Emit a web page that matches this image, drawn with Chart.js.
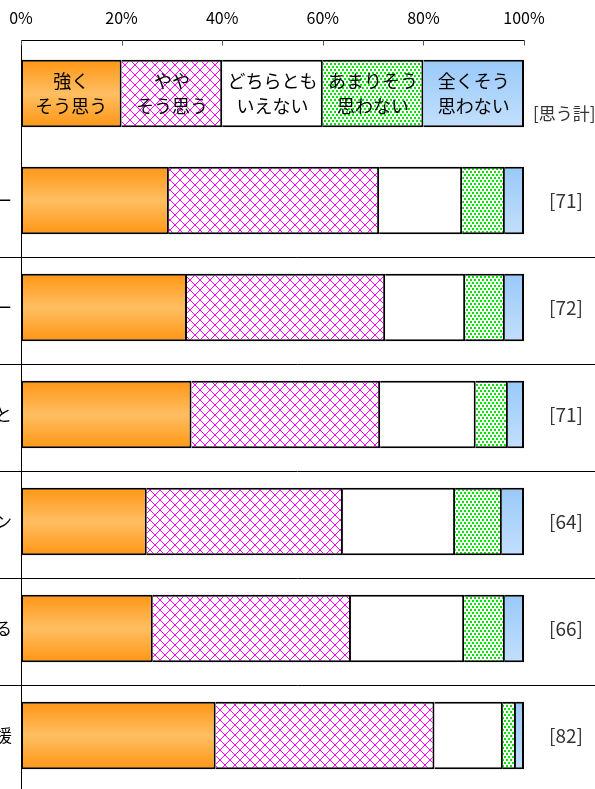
<!DOCTYPE html>
<html lang="ja">
<head>
<meta charset="utf-8">
<script src="https://cdn.jsdelivr.net/npm/chart.js@4.4.0/dist/chart.umd.min.js"></script>
<style>
  html, body { margin: 0; padding: 0; background: #fff; }
  #wrap { width: 595px; height: 789px; }
</style>
</head>
<body>
<div id="wrap"><canvas id="chart" width="595" height="789"></canvas></div>
<script>
// 1行目は凡例を兼ねた帯（各20%）、2行目以降が各項目
const categories = ["", "経営相談・アドバイザー", "専門家によるコーディネーター", "他の企業との連携を図ること", "人材育成セミナー・キャンペーン", "情報を共有できる", "資金面での支援"];
const legendLines = [["強く", "そう思う"], ["やや", "そう思う"], ["どちらとも", "いえない"], ["あまりそう", "思わない"], ["全くそう", "思わない"]];
const strongly  = [20, 29.4, 33.0, 33.9, 25.0, 26.2, 38.7];
const somewhat  = [20, 41.8, 39.4, 37.5, 39.0, 39.4, 43.5];
const neither   = [20, 16.5, 15.9, 19.0, 22.3, 22.5, 13.6];
const notReally = [20, 8.5, 7.9, 6.4, 9.3, 8.1, 2.6];
const notAtAll  = [20, 3.8, 3.8, 3.2, 4.4, 3.8, 1.6];
const thinkTotal = [null, 71, 72, 71, 64, 66, 82];
const totalTitle = "[思う計]";
const xTicks = [0, 20, 40, 60, 80, 100];

const FONT = '"Noto Sans CJK JP", "Noto Sans", sans-serif';
const BAR_PCT = 0.63;
const AXIS_HEIGHT = 40;
Chart.defaults.font.family = FONT;

// 模様（ピンクの格子・緑のドット）
function makePattern(size, draw) {
  const cv = document.createElement("canvas");
  cv.width = size[0];
  cv.height = size[1];
  const c = cv.getContext("2d");
  c.fillStyle = "#fff";
  c.fillRect(0, 0, size[0], size[1]);
  draw(c);
  return document.getElementById("chart").getContext("2d").createPattern(cv, "repeat");
}
const pinkLattice = makePattern([10, 10], c => {
  c.fillStyle = "#ff00ff";
  for (let i = 0; i < 10; i++) {
    c.fillRect(i, i, 1, 1);
    c.fillRect(9 - i, i, 1, 1);
  }
});
const greenDots = makePattern([4, 6], c => {
  c.fillStyle = "#00e600";
  c.fillRect(0, 0, 2, 2);
  c.fillRect(2, 3, 2, 2);
});

// 帯ごとの縦グラデーション
function barGradient(stops) {
  return function (context) {
    const chart = context.chart;
    const y = chart.scales.y;
    if (!y || context.dataIndex === undefined) return stops[1][1];
    const c = y.getPixelForValue(context.dataIndex);
    const half = (y.getPixelForValue(1) - y.getPixelForValue(0)) * BAR_PCT / 2;
    if (!isFinite(c) || !isFinite(half) || half <= 0) return stops[1][1];
    const g = chart.ctx.createLinearGradient(0, c - half, 0, c + half);
    stops.forEach(s => g.addColorStop(s[0], s[1]));
    return g;
  };
}
const orangeFill = barGradient([[0, "#ff9614"], [0.5, "#ffbe62"], [1, "#ff9614"]]);
const blueFill = barGradient([[0, "#99c9f9"], [1, "#c2dffc"]]);

function border(first) {
  return { top: 2, bottom: 2, left: first ? 2 : 0, right: 2 };
}

const extras = {
  id: "extras",
  afterDraw(chart) {
    const { ctx, chartArea, scales: { x, y } } = chart;
    ctx.save();
    ctx.strokeStyle = "#000";
    ctx.lineWidth = 1;
    // 上端の軸線と左の軸線
    const top = Math.round(chartArea.top) + 0.5;
    const left = Math.round(chartArea.left) + 0.5;
    ctx.beginPath();
    ctx.moveTo(left, top);
    ctx.lineTo(Math.round(x.getPixelForValue(100)) + 0.5, top);
    ctx.moveTo(left, top);
    ctx.lineTo(left, chart.height);
    ctx.stroke();
    // 区切り線
    for (let i = 1; i < categories.length - 1; i++) {
      const yy = Math.round((y.getPixelForValue(i) + y.getPixelForValue(i + 1)) / 2 + 3) + 0.5;
      ctx.beginPath();
      ctx.moveTo(0, yy);
      ctx.lineTo(chart.width, yy);
      ctx.stroke();
    }
    // 内向きの目盛り
    ctx.strokeStyle = "#555";
    xTicks.forEach(v => {
      const px = Math.round(x.getPixelForValue(v)) + 0.5;
      ctx.beginPath();
      ctx.moveTo(px, top);
      ctx.lineTo(px, top + 5);
      ctx.stroke();
    });
    // 凡例の文字
    ctx.fillStyle = "#000";
    ctx.font = "18px " + FONT;
    ctx.textAlign = "center";
    ctx.textBaseline = "middle";
    chart.data.datasets.forEach((ds, i) => {
      const bar = chart.getDatasetMeta(i).data[0];
      const cx = (bar.x + bar.base) / 2;
      legendLines[i].forEach((t, j) => ctx.fillText(t, cx, bar.y + (j - 0.5) * 25));
    });
    // 思う計
    ctx.fillStyle = "#333";
    ctx.font = "19px " + FONT;
    thinkTotal.forEach((v, i) => {
      if (v === null) return;
      ctx.fillText("[" + v + "]", chartArea.right + 42, y.getPixelForValue(i));
    });
    ctx.font = "17px " + FONT;
    ctx.textAlign = "left";
    ctx.fillText(totalTitle, chartArea.right + 9, y.getPixelForValue(0) + 20);
    // 項目名（左端で切れている）
    ctx.fillStyle = "#000";
    ctx.textAlign = "right";
    categories.forEach((c, i) => {
      if (c) ctx.fillText(c, 12, y.getPixelForValue(i));
    });
    ctx.restore();
  }
};

new Chart(document.getElementById("chart"), {
  type: "bar",
  data: {
    labels: categories,
    datasets: [
      { label: "強くそう思う", data: strongly, backgroundColor: orangeFill, borderWidth: border(true) },
      { label: "ややそう思う", data: somewhat, backgroundColor: pinkLattice, borderWidth: border(false) },
      { label: "どちらともいえない", data: neither, backgroundColor: "#ffffff", borderWidth: border(false) },
      { label: "あまりそう思わない", data: notReally, backgroundColor: greenDots, borderWidth: border(false) },
      { label: "全くそう思わない", data: notAtAll, backgroundColor: blueFill, borderWidth: border(false) }
    ]
  },
  options: {
    indexAxis: "y",
    responsive: false,
    animation: false,
    events: [],
    layout: { padding: { left: 21, right: 71, top: 0, bottom: 0 } },
    datasets: {
      bar: {
        borderColor: "#000",
        borderSkipped: false,
        barPercentage: BAR_PCT,
        categoryPercentage: 1
      }
    },
    scales: {
      x: {
        position: "top",
        stacked: true,
        min: 0,
        max: 100,
        grid: { display: false, drawTicks: false },
        border: { display: false },
        ticks: {
          stepSize: 20,
          padding: 12,
          color: "#000",
          font: { size: 16 },
          callback: v => v + "%"
        },
        afterFit: scale => {
          scale.height = AXIS_HEIGHT;
          scale.paddingLeft = 0;
          scale.paddingRight = 0;
        }
      },
      y: {
        stacked: true,
        grid: { display: false, drawTicks: false },
        border: { display: false },
        ticks: { display: false }
      }
    },
    plugins: {
      legend: { display: false },
      tooltip: { enabled: false }
    }
  },
  plugins: [extras]
});
</script>
</body>
</html>
